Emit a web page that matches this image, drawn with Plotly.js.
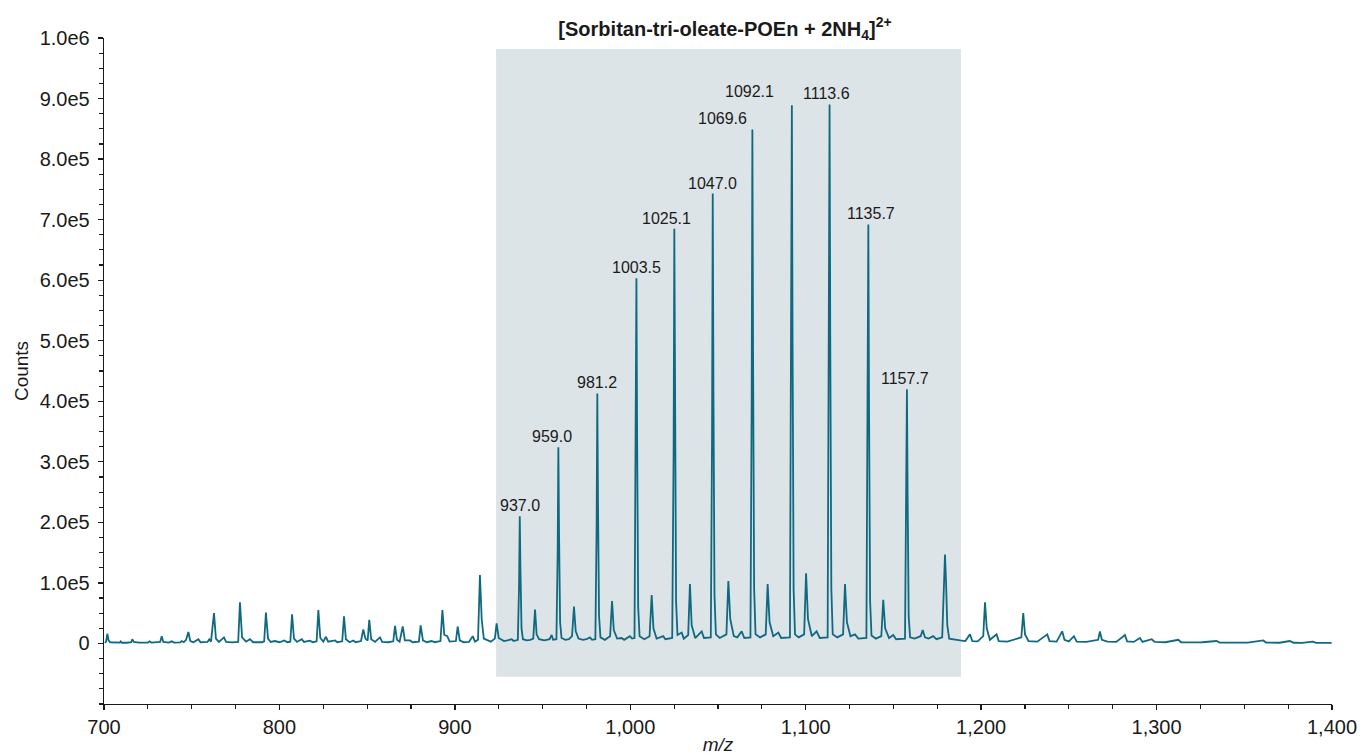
<!DOCTYPE html>
<html>
<head>
<meta charset="utf-8">
<script src="https://cdn.plot.ly/plotly-3.0.1.min.js"></script>
<style>html,body{margin:0;padding:0;background:#fff;}#chart{width:1367px;height:755px;}</style>
</head>
<body>
<div id="chart"></div>
<script>
// ---- Data ----
const mz = [
 700.5,701.2,701.9,702.6,703.5,706,709,709.5,710.2,713,715.5,716.1,717,720,725,726,727,732,732.9,733.8,
 737,738.6,740,743.5,744.3,745.5,746.8,748.1,749.2,751,753.8,755,759,760,761,762.7,763.8,765.5,768.4,769.6,
 773,776.5,777.5,778.7,781,783.2,785,790,791.3,792.3,793.5,795,797.5,800,802.8,804.5,806.2,807.2,808.3,810,
 812.7,814,817.4,819,821.2,822.2,823.3,825,826.5,827.8,831.7,833,835.8,836.8,837.9,840,842.1,843.5,846.5,847.8,
 849,850.3,851.2,852.3,854.5,857.3,858.6,862,864.9,865.9,867,868.5,870.3,871.5,874.4,876,879.5,880.5,881.8,884,
 886.8,888.5,891.8,892.9,894,895.7,897,900.6,901.6,902.8,905,908,910.2,911.5,913.2,914.3,915.3,916.5,919.1,920.5,
 922.8,923.8,925,928,930,932.4,933.5,935.9,936.6,937.0,937.4,938.0,938.8,941,943,944.7,945.7,946.6,948,951,
 954,955.2,956,957.9,958.6,959.0,959.4,960.0,960.8,963,965,966.8,967.9,968.9,970.5,973,975,977,978.2,980.1,
 980.8,981.2,981.6,982.2,983,985.5,988.5,989.6,990.6,992.5,995.1,996.5,999.8,1001,1002.4,1003.1,1003.5,1003.9,1004.5,1005.3,
 1008,1011,1012.2,1013.2,1015,1018.8,1020,1023.9,1024.7,1025.1,1025.5,1026.1,1026.9,1029.3,1030.5,1033,1034,1035,1037,1040.7,
 1042,1045.9,1046.6,1047.0,1047.4,1048.0,1048.8,1051,1054.8,1055.9,1057,1059,1061,1063.5,1065,1068.5,1069.2,1069.6,1070.0,1070.6,
 1071.4,1074,1077.2,1078.3,1079.4,1081.5,1084.4,1086,1091.0,1091.7,1092.1,1092.5,1093.1,1093.9,1096,1099.1,1100.2,1101.3,1103.5,1106.2,
 1108,1112.5,1113.2,1113.6,1114.0,1114.6,1115.4,1118,1121.3,1122.4,1123.5,1125.5,1128.1,1130,1134.6,1135.3,1135.7,1136.1,1136.7,1137.5,
 1140,1143.1,1144.2,1145.3,1147.5,1149.9,1151.5,1156.6,1157.3,1157.7,1158.1,1158.7,1159.5,1162,1165.5,1166.7,1168,1170,1172.7,1174.5,
 1177.8,1178.8,1179.4,1180.0,1180.7,1181.8,1185,1188,1191,1193.6,1195,1198,1201.2,1202.2,1203.2,1205,1208.8,1210,1215,1222.9,
 1224,1225,1227,1232,1237.7,1239,1243,1246.2,1247.5,1250,1252.9,1254.5,1260,1266.7,1267.7,1268.8,1272,1277,1282,1283.2,
 1287,1290.5,1292,1297.2,1299,1305,1312.4,1314,1320,1326,1334.2,1336,1345,1352,1360.8,1362.5,1370,1376,1378,1383,
 1389,1391,1399.8
];
const counts = [
 1000,3000,16000,5000,2000,1500,1500,3500,1200,1200,2000,7000,2500,1500,1500,3500,1500,2500,12000,2500,
 1500,3500,1500,1800,4000,2000,6000,19000,4000,2000,7000,2000,2500,7000,3000,50000,8000,2500,10000,2500,
 1800,2500,68000,10000,3000,7000,2000,2000,3500,51000,8000,2500,4000,2000,5000,2000,3000,48000,8000,2500,
 7000,2500,4500,2000,3500,55000,9000,3000,11000,3000,5000,2000,3500,45000,7000,2000,5000,2000,4000,23000,
 8000,5000,39000,7000,2500,10000,2500,2000,3500,29000,6000,3000,28000,5000,5000,2000,3000,30000,5000,2000,
 4000,2000,4000,55000,14000,12000,3000,4000,28000,5000,2000,2500,12000,3000,6000,113000,40000,8000,5000,3000,
 8000,33000,9000,4000,5000,7000,4000,6000,95000,210000,120000,25000,7000,5000,6000,8000,56000,15000,7000,5000,
 7000,14000,6000,7000,150000,324000,180000,35000,9000,6000,7000,12000,61000,20000,8000,6000,7000,10000,6000,7000,
 190000,413000,230000,45000,10000,6000,12000,70000,22000,8000,9000,6000,12000,8000,9000,280000,603000,340000,60000,12000,
 7000,12000,80000,25000,8000,12000,7000,9000,320000,685000,380000,70000,14000,18000,8000,14000,98000,30000,9000,20000,
 9000,10000,340000,743000,420000,80000,15000,9000,15000,103000,40000,12000,10000,20000,9000,10000,400000,849000,470000,90000,
 15000,10000,15000,98000,35000,12000,18000,9000,10000,420000,889000,500000,90000,15000,10000,15000,116000,40000,12000,20000,
 9000,10000,420000,890000,500000,90000,15000,10000,15000,98000,35000,12000,15000,8000,9000,330000,692000,390000,70000,13000,
 8000,12000,72000,25000,9000,14000,7000,8000,200000,420000,240000,45000,10000,8000,12000,22000,10000,8000,12000,7000,
 10000,90000,147000,100000,30000,8000,6000,5000,4000,15000,4000,3500,12000,68000,25000,6000,15000,4000,3000,10000,
 50000,15000,4000,3000,15000,4000,3000,20000,6000,3500,12000,3000,2500,6000,20000,6000,3000,2500,14000,3500,
 2500,9000,2500,7000,2500,2000,6000,2000,1800,2000,4000,1500,1500,1500,5000,1500,1200,4000,1200,1000,
 3000,1000,1000
];

// labelled peaks
const peakMz = [937.0, 959.0, 981.2, 1003.5, 1025.1, 1047.0, 1069.6, 1092.1, 1113.6, 1135.7, 1157.7];
const peakCounts = [210000, 324000, 413000, 603000, 685000, 743000, 849000, 889000, 890000, 692000, 420000];
const peakLabels = ["937.0","959.0","981.2","1003.5","1025.1","1047.0","1069.6","1092.1","1113.6","1135.7","1157.7"];

// highlighted m/z window
const windowMz = [923.5, 1188.5];

// axis ticks
const xTickVals = [700, 800, 900, 1000, 1100, 1200, 1300, 1400];
const xTickText = ["700", "800", "900", "1,000", "1,100", "1,200", "1,300", "1,400"];
const yTickVals = [0, 100000, 200000, 300000, 400000, 500000, 600000, 700000, 800000, 900000, 1000000];
const yTickText = ["0", "1.0e5", "2.0e5", "3.0e5", "4.0e5", "5.0e5", "6.0e5", "7.0e5", "8.0e5", "9.0e5", "1.0e6"];

const titleText = "<b>[Sorbitan-tri-oleate-POEn + 2NH<sub>4</sub>]<sup>2+</sup></b>";

// ---- Styles ----
const FONT = "Liberation Sans, Arial, Helvetica, sans-serif";
const LINE_COLOR = "#0f6981";
const labelXShift = [0, -6, 0, 0, -8, 0, -30, -42, -3, 3, -2];
const labelYShift = [0, 0, 0, 0, 0, 0, 0, 3, 1, 0, 0];

const trace = {
  x: mz, y: counts, type: "scatter", mode: "lines",
  line: {color: LINE_COLOR, width: 1.8, shape: "linear"},
  hoverinfo: "skip"
};

const annotations = peakMz.map((m, i) => ({
  x: m, y: peakCounts[i], xref: "x", yref: "y",
  text: peakLabels[i], showarrow: false,
  xanchor: "center", yanchor: "bottom",
  xshift: labelXShift[i], yshift: labelYShift[i],
  font: {family: FONT, size: 16, color: "#1a1a1a"}
}));

const layout = {
  width: 1367, height: 755,
  margin: {l: 104, r: 35, t: 38, b: 51},
  paper_bgcolor: "#ffffff", plot_bgcolor: "#ffffff",
  showlegend: false,
  font: {family: FONT, color: "#1a1a1a"},
  title: {
    text: titleText,
    font: {family: FONT, size: 20, color: "#1a1a1a"},
    x: 0.5057, xref: "paper", xanchor: "center",
    y: 0.962, yref: "container", yanchor: "middle"
  },
  xaxis: {
    range: [700, 1400], showgrid: false, zeroline: false,
    showline: true, linecolor: "#1a1a1a", linewidth: 1.3, mirror: false,
    ticks: "outside", ticklen: 5, tickwidth: 1.3, tickcolor: "#1a1a1a",
    tickmode: "array", tickvals: xTickVals, ticktext: xTickText,
    tickfont: {family: FONT, size: 20, color: "#1a1a1a"},
    minor: {dtick: 25, tick0: 700, ticks: "outside", ticklen: 4, tickwidth: 1.1, tickcolor: "#1a1a1a", showgrid: false},
    title: {text: "<i>m/z</i>", font: {family: FONT, size: 19, color: "#1a1a1a"}, standoff: 0}
  },
  yaxis: {
    range: [-100000, 1000000], showgrid: false, zeroline: false,
    showline: true, linecolor: "#1a1a1a", linewidth: 1.3,
    ticks: "outside", ticklen: 5, tickwidth: 1.3, tickcolor: "#1a1a1a",
    tickmode: "array", tickvals: yTickVals, ticktext: yTickText,
    tickfont: {family: FONT, size: 20, color: "#1a1a1a"},
    ticklabelstandoff: 4,
    minor: {dtick: 25000, tick0: 0, ticks: "outside", ticklen: 4, tickwidth: 1.1, tickcolor: "#1a1a1a", showgrid: false},
    title: {text: "Counts", font: {family: FONT, size: 19, color: "#1a1a1a"}, standoff: 6}
  },
  shapes: [{
    type: "rect", xref: "x", yref: "y",
    x0: windowMz[0], x1: windowMz[1], y0: -55000, y1: 982000,
    fillcolor: "#dde4e7", line: {width: 0}, layer: "below"
  }],
  annotations: annotations
};

Plotly.newPlot("chart", [trace], layout, {displayModeBar: false, staticPlot: true});
</script>
</body>
</html>
